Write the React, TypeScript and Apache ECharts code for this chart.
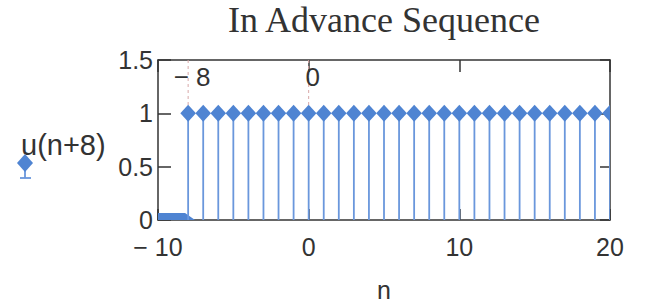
import React, { useEffect, useRef } from "react";
import * as echarts from "echarts";

const nValues: number[] = Array.from({ length: 31 }, (_, i) => i - 10);
const uValues: number[] = [0, 0, 1, 1, 1, 1, 1, 1, 1, 1, 1, 1, 1, 1, 1, 1, 1, 1, 1, 1, 1, 1, 1, 1, 1, 1, 1, 1, 1, 1, 1];
const markerPositions: number[] = [-8, 0];
const markerLabels: string[] = ["\u2212 8", "0"];
const titleText = "In Advance Sequence";
const seriesName = "u(n+8)";
const xName = "n";

const BLUE = "#4f84d2";
const STEM = "#6a97dc";
const SANS = "Liberation Sans, Arial, sans-serif";

export default function App() {
  const ref = useRef<HTMLDivElement>(null);
  useEffect(() => {
    if (!ref.current) return;
    const chart = echarts.init(ref.current, null, { renderer: "svg" });
    const stemData = nValues.map((n, i) => [n, uValues[i]]);
    const markData = markerPositions.map((n, i) => [n, markerLabels[i]]);
    const axisLine = { show: true, onZero: false, lineStyle: { color: "#333", width: 1.5 } };
    const tick = (len: number) => ({ show: true, inside: true, length: len, lineStyle: { color: "#333", width: 1.5 } });
    chart.setOption({
      animation: false,
      backgroundColor: "#fff",
      grid: { left: 158, right: 37, top: 60, bottom: 87, containLabel: false },
      xAxis: [
        {
          type: "value", min: -10, max: 20, interval: 10, position: "bottom",
          axisLine, splitLine: { show: false }, axisTick: tick(11),
          axisLabel: {
            color: "#333", fontSize: 25, fontFamily: SANS, margin: 14,
            formatter: (v: number) => (v < 0 ? "\u2212 " + Math.abs(v) : String(v)),
          },
          name: xName, nameLocation: "middle", nameGap: 57,
          nameTextStyle: { color: "#333", fontSize: 25, fontFamily: SANS },
        },
        {
          type: "value", min: -10, max: 20, interval: 10, position: "top",
          axisLine, splitLine: { show: false }, axisTick: tick(12),
          axisLabel: { show: false },
        },
      ],
      yAxis: [
        {
          type: "value", min: 0, max: 1.5, interval: 0.5, position: "left",
          axisLine, splitLine: { show: false }, axisTick: tick(13),
          axisLabel: { color: "#333", fontSize: 25, fontFamily: SANS, margin: 5 },
        },
        {
          type: "value", min: 0, max: 1.5, interval: 0.5, position: "right",
          axisLine, splitLine: { show: false }, axisTick: tick(10),
          axisLabel: { show: false },
        },
      ],
      series: [
        {
          type: "custom",
          name: "marks",
          clip: true,
          data: markData,
          z: 1,
          renderItem: (params: any, api: any) => {
            const n = api.value(0);
            const top = api.coord([n, 1.5]);
            const bot = api.coord([n, 1]);
            const lab = api.coord([n, 1.34]);
            return {
              type: "group",
              children: [
                {
                  type: "line",
                  shape: { x1: top[0], y1: top[1], x2: bot[0], y2: bot[1] },
                  style: { stroke: "#d8a8a8", lineWidth: 1, lineDash: [3, 3] },
                },
                {
                  type: "text",
                  x: lab[0] + 4,
                  y: lab[1],
                  style: {
                    text: markData[params.dataIndex][1],
                    fontSize: 26, fontFamily: SANS, fill: "#333",
                    align: "center", verticalAlign: "middle",
                  },
                },
              ],
            };
          },
        },
        {
          type: "custom",
          name: seriesName,
          clip: true,
          data: stemData,
          z: 2,
          renderItem: (params: any, api: any) => {
            const n = api.value(0);
            const v = api.value(1);
            const p0 = api.coord([n, 0]);
            const p1 = api.coord([n, v]);
            const hw = 7.8, hh = 8.5;
            const marker =
              v === 0
                ? {
                    type: "polygon",
                    shape: {
                      points: [
                        [p1[0] - hw, p1[1]],
                        [p1[0] - hw, p1[1] - 7],
                        [p1[0] + 12, p1[1] - 7],
                        [p1[0] + 22, p1[1]],
                      ],
                    },
                    style: { fill: BLUE },
                  }
                : {
                    type: "polygon",
                    shape: {
                      points: [
                        [p1[0], p1[1] - hh],
                        [p1[0] + hw, p1[1]],
                        [p1[0], p1[1] + hh],
                        [p1[0] - hw, p1[1]],
                      ],
                    },
                    style: { fill: BLUE },
                  };
            return {
              type: "group",
              children: [
                {
                  type: "line",
                  shape: { x1: p0[0], y1: p0[1], x2: p1[0], y2: p1[1] },
                  style: { stroke: STEM, lineWidth: 1.8 },
                },
                marker,
              ],
            };
          },
        },
      ],
      graphic: [
        {
          type: "text", x: 384, y: 20,
          style: {
            text: titleText, fontSize: 36, fontFamily: "Liberation Serif, Times New Roman, serif",
            fill: "#333", align: "center", verticalAlign: "middle",
          },
        },
        {
          type: "text", x: 21, y: 145,
          style: {
            text: seriesName, fontSize: 29, fontFamily: SANS, fill: "#333",
            align: "left", verticalAlign: "middle",
          },
        },
        {
          type: "line",
          shape: { x1: 25, y1: 163, x2: 25, y2: 178 },
          style: { stroke: STEM, lineWidth: 1.8 },
        },
        {
          type: "line",
          shape: { x1: 20, y1: 178, x2: 31, y2: 178 },
          style: { stroke: STEM, lineWidth: 1.8 },
        },
        {
          type: "polygon",
          shape: { points: [[25, 154], [33, 163], [25, 172], [17, 163]] },
          style: { fill: BLUE },
        },
      ],
    });
    return () => chart.dispose();
  }, []);
  return <div ref={ref} style={{ width: 647, height: 307, position: "absolute", left: 0, top: 0 }} />;
}
